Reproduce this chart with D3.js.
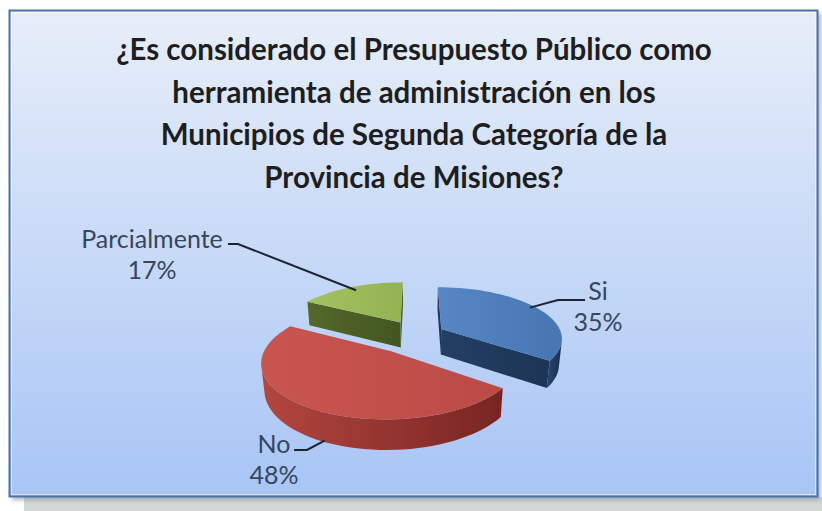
<!DOCTYPE html>
<html>
<head>
<meta charset="utf-8">
<script src="https://cdn.jsdelivr.net/npm/d3@7"></script>
<style>
  html, body { margin: 0; padding: 0; background: #ffffff; }
  svg { display: block; }
</style>
</head>
<body>
<svg id="chart" width="822" height="511"></svg>
<script>
// ---- data ----
const titleLines = [
  "¿Es considerado el Presupuesto Público como",
  "herramienta de administración en los",
  "Municipios de Segunda Categoría de la",
  "Provincia de Misiones?"
];
const categories = ["Si", "No", "Parcialmente"];
const values = [35, 48, 17];

// ---- styling / layout ----
const topColors  = { "Si": ["#5687c4", "#4676b2"], "No": ["#c9554f", "#bb4a46"], "Parcialmente": ["#a3c25f", "#93b352"] };
const wallColors = { "Si": ["#27466e", "#1a3050"], "No": ["#b4463f", "#772522"], "Parcialmente": ["#5a6f2c", "#3e511e"] };
const faceColors = { "Si": ["#223f63", "#1d3555"], "No": ["#9a3a36", "#7a2a27"], "Parcialmente": ["#536829", "#435622"] };
const explode = { "Si": 0.23, "No": 0.38, "Parcialmente": 0.28 };
const labelLayout = {
  "Si":           { x: 598, y: 300, anchorAngle: 60,  anchorR: 0.95, anchorY: 1,    bend: [558, 300], end: [585, 300] },
  "No":           { x: 274, y: 453, anchorAngle: 205, anchorR: 1.0,  anchorY: 0.05, bend: [307, 450], end: [294, 450] },
  "Parcialmente": { x: 152, y: 248, anchorAngle: 330, anchorR: 0.9,  anchorY: 1,    bend: [238, 244], end: [228, 244] }
};
const V = { cx: 417, cy: 360, R: 118, D: 5.5, tilt: 27 * Math.PI / 180, h: 0.24 };

const svg = d3.select("#chart");
const defs = svg.append("defs");

function linGrad(id, c0, c1, vertical) {
  const g = defs.append("linearGradient").attr("id", id)
    .attr("x1", 0).attr("y1", 0).attr("x2", vertical ? 0 : 1).attr("y2", vertical ? 1 : 0);
  g.append("stop").attr("offset", "0%").attr("stop-color", c0);
  g.append("stop").attr("offset", "100%").attr("stop-color", c1);
  return `url(#${id})`;
}

// ---- frame ----
const bgFill = linGrad("bg", "#e7eef9", "#a8c5f5", true);
const blur = defs.append("filter").attr("id", "soft")
  .attr("x", "-5%").attr("y", "-5%").attr("width", "110%").attr("height", "110%");
blur.append("feGaussianBlur").attr("stdDeviation", 2);

svg.append("rect").attr("x", 24).attr("y", 497).attr("width", 798).attr("height", 14)
  .attr("fill", "#d3d7d3");
svg.append("rect").attr("x", 12).attr("y", 13).attr("width", 809).attr("height", 487)
  .attr("fill", "#8e9aa6").attr("opacity", 0.7).attr("filter", "url(#soft)");
svg.append("rect").attr("x", 9.5).attr("y", 10.5).attr("width", 808).attr("height", 486)
  .attr("fill", bgFill).attr("stroke", "#4e72a8").attr("stroke-width", 2);
svg.append("rect").attr("x", 11.5).attr("y", 12.5).attr("width", 804).attr("height", 482)
  .attr("fill", "none").attr("stroke", "#ffffff").attr("stroke-opacity", 0.55);

// ---- title ----
svg.append("text")
  .attr("x", 414).attr("y", 60)
  .attr("text-anchor", "middle")
  .style("font-family", "Lato, 'Open Sans', sans-serif")
  .style("font-weight", "bold")
  .style("font-size", "29.5px")
  .attr("fill", "#1e1e1e")
  .selectAll("tspan").data(titleLines).join("tspan")
  .attr("x", 414).attr("dy", (d, i) => i === 0 ? 0 : 42.7)
  .text(d => d);

// ---- 3D pie ----
const cosT = Math.cos(V.tilt), sinT = Math.sin(V.tilt);
function proj(X, Y, Z) {
  const s = V.D / (V.D - (Z * cosT + Y * sinT));
  return [V.cx + V.R * X * s, V.cy + V.R * (Z * sinT - Y * cosT) * s];
}

const rows = categories.map((name, i) => ({ name, value: values[i] }));
const total = d3.sum(values);
const pct = d3.format(".0%");
const arcs = d3.pie().sort(null).value(d => d.value)(rows);

arcs.forEach(a => {
  const mid = (a.startAngle + a.endAngle) / 2;
  const e = explode[a.data.name];
  a.cX = e * Math.sin(mid);
  a.cZ = -e * Math.cos(mid);
});

const pt = (a, t, Y, r = 1) => proj(a.cX + r * Math.sin(t), Y, a.cZ - r * Math.cos(t));
const camZ = V.D * cosT;
const wallVisible = (a, t) => -1 - Math.sin(t) * a.cX + Math.cos(t) * (a.cZ - camZ) > 0;
const faceVisible = (a, psi) => -Math.sin(psi) * a.cX - Math.cos(psi) * (camZ - a.cZ) > 0;

const closed = d3.line().curve(d3.curveLinearClosed);
const pieG = svg.append("g");
const STEPS = 120;

arcs.slice().sort((p, q) => p.cZ - q.cZ).forEach(a => {
  const name = a.data.name;
  const key = name.replace(/\W/g, "");
  const g = pieG.append("g");
  const h = V.h;

  // radial cut faces
  [[a.startAngle, a.startAngle - Math.PI / 2], [a.endAngle, a.endAngle + Math.PI / 2]].forEach(([t, psi], k) => {
    if (!faceVisible(a, psi)) return;
    const poly = [proj(a.cX, h, a.cZ), pt(a, t, h), pt(a, t, 0), proj(a.cX, 0, a.cZ)];
    g.append("path").attr("d", closed(poly))
      .attr("fill", linGrad(`face-${key}-${k}`, faceColors[name][0], faceColors[name][1], false));
  });

  // outer curved wall, front-facing runs only
  const n = Math.max(2, Math.ceil(STEPS * (a.endAngle - a.startAngle) / (2 * Math.PI)));
  const ts = d3.range(n + 1).map(j => a.startAngle + (a.endAngle - a.startAngle) * j / n);
  let run = [];
  const runs = [];
  for (let j = 0; j < n; j++) {
    const tm = (ts[j] + ts[j + 1]) / 2;
    if (wallVisible(a, tm)) {
      if (!run.length) run.push(ts[j]);
      run.push(ts[j + 1]);
    } else if (run.length) { runs.push(run); run = []; }
  }
  if (run.length) runs.push(run);
  runs.forEach((r, k) => {
    const poly = r.map(t => pt(a, t, h)).concat(r.slice().reverse().map(t => pt(a, t, 0)));
    g.append("path").attr("d", closed(poly))
      .attr("fill", linGrad(`wall-${key}-${k}`, wallColors[name][0], wallColors[name][1], false));
  });

  // top face
  const topPoly = [proj(a.cX, h, a.cZ)].concat(ts.map(t => pt(a, t, h)));
  g.append("path").attr("d", closed(topPoly))
    .attr("fill", linGrad(`top-${key}`, topColors[name][0], topColors[name][1], false));
});

// ---- data labels with leader lines ----
const lab = svg.append("g")
  .style("font-family", "Lato, 'Open Sans', sans-serif")
  .style("font-size", "25px")
  .attr("fill", "#36465b");

arcs.forEach(a => {
  const L = labelLayout[a.data.name];
  const anchor = pt(a, L.anchorAngle * Math.PI / 180, V.h * L.anchorY, L.anchorR);
  lab.append("path")
    .attr("d", d3.line()([anchor, L.bend, L.end]))
    .attr("fill", "none").attr("stroke", "#1b2430").attr("stroke-width", 2);
  const t = lab.append("text").attr("text-anchor", "middle");
  t.append("tspan").attr("x", L.x).attr("y", L.y).text(a.data.name);
  t.append("tspan").attr("x", L.x).attr("dy", 31).text(pct(a.data.value / total));
});
</script>
</body>
</html>
